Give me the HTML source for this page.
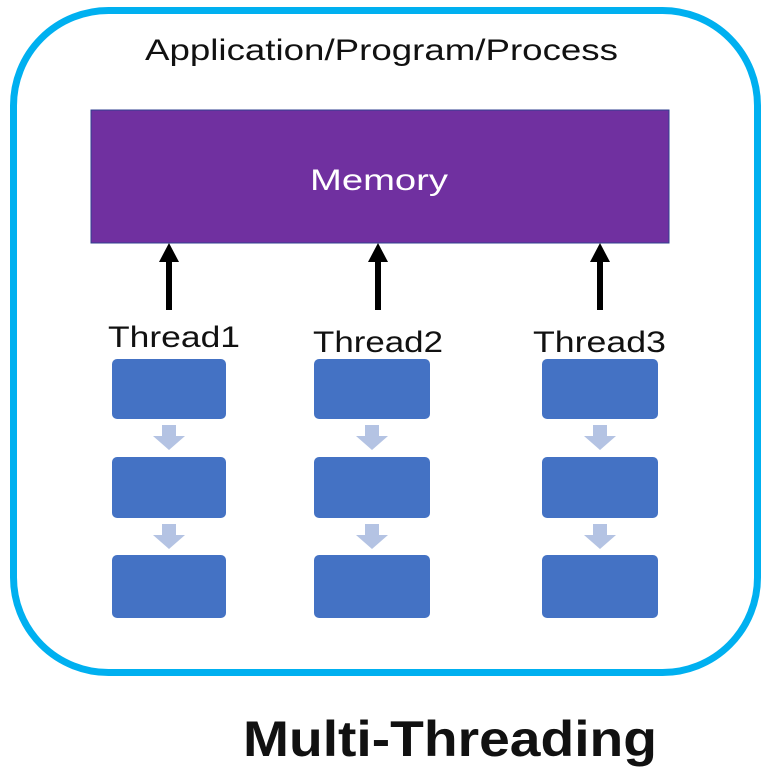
<!DOCTYPE html>
<html><head><style>
body{margin:0;background:#fff;}
</style></head><body>
<svg width="770" height="770" viewBox="0 0 770 770" xmlns="http://www.w3.org/2000/svg" font-family="Liberation Sans, sans-serif">
<rect x="13.5" y="10.5" width="744" height="662" rx="95" fill="#fff" stroke="#00b0f0" stroke-width="7"/>
<text x="145" y="60" font-size="30" textLength="473" lengthAdjust="spacingAndGlyphs" fill="#111">Application/Program/Process</text>
<rect x="91" y="110" width="578" height="133" fill="#7030a0" stroke="#2f3f8f" stroke-width="1"/>
<text x="310" y="190" font-size="30" textLength="138" lengthAdjust="spacingAndGlyphs" fill="#fff">Memory</text>
<g fill="#000">
<rect x="166" y="258" width="6" height="52"/><polygon points="169,243 159,262 179,262"/>
<rect x="375" y="258" width="6" height="52"/><polygon points="378,243 368,262 388,262"/>
<rect x="597" y="258" width="6" height="52"/><polygon points="600,243 590,262 610,262"/>
</g>
<g font-size="30" fill="#111">
<text x="108" y="347" textLength="132" lengthAdjust="spacingAndGlyphs">Thread1</text>
<text x="313" y="352" textLength="130" lengthAdjust="spacingAndGlyphs">Thread2</text>
<text x="533" y="352" textLength="133" lengthAdjust="spacingAndGlyphs">Thread3</text>
</g>
<g fill="#4472c4">
<rect x="112" y="359" width="114" height="60" rx="5"/><rect x="112" y="457" width="114" height="61" rx="5"/><rect x="112" y="555" width="114" height="63" rx="5"/>
<rect x="314" y="359" width="116" height="60" rx="5"/><rect x="314" y="457" width="116" height="61" rx="5"/><rect x="314" y="555" width="116" height="63" rx="5"/>
<rect x="542" y="359" width="116" height="60" rx="5"/><rect x="542" y="457" width="116" height="61" rx="5"/><rect x="542" y="555" width="116" height="63" rx="5"/>
</g>
<g fill="#b4c3e3">
<path d="M162 425h14v11h9l-16 14l-16-14h9z"/>
<path d="M162 524h14v11h9l-16 14l-16-14h9z"/>
<path d="M365 425h14v11h9l-16 14l-16-14h9z"/>
<path d="M365 524h14v11h9l-16 14l-16-14h9z"/>
<path d="M593 425h14v11h9l-16 14l-16-14h9z"/>
<path d="M593 524h14v11h9l-16 14l-16-14h9z"/>
</g>
<text x="243" y="756" font-size="50" font-weight="bold" textLength="414" lengthAdjust="spacingAndGlyphs" fill="#111">Multi-Threading</text>
</svg>
</body></html>
